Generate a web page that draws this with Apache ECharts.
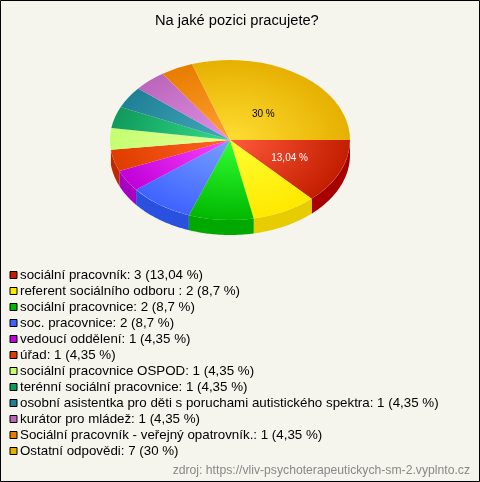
<!DOCTYPE html>
<html>
<head>
<meta charset="utf-8">
<style>html,body{margin:0;padding:0;background:#f5f5ee}#c{width:480px;height:482px}</style>
<script src="https://cdn.jsdelivr.net/npm/echarts@6/dist/echarts.min.js"></script>
</head>
<body>
<div id="c"></div>
<script>
var categories = ['sociální pracovník','referent sociálního odboru ','sociální pracovnice','soc. pracovnice','vedoucí oddělení','úřad','sociální pracovnice OSPOD','terénní sociální pracovnice','osobní asistentka pro děti s poruchami autistického spektra','kurátor pro mládež','Sociální pracovník - veřejný opatrovník.','Ostatní odpovědi'];
var counts = [3,2,2,2,1,1,1,1,1,1,1,7];
var percents = [13.04,8.7,8.7,8.7,4.35,4.35,4.35,4.35,4.35,4.35,4.35,30];
var inner = ['#ff5a3c','#ffff33','#33ff33','#77a0ff','#ff44ff','#ff6622','#e6ff99','#33dd88','#44aabb','#e090e8','#ffa033','#ffdd33'];
var outer = ['#c41e00','#ffe800','#00b800','#3f62ff','#c000d8','#e03c00','#c4ff70','#0f9a5c','#1f7f96','#bb66bb','#e87c00','#e6b000'];
var sides = ['#a80000','#e6cc00','#00a800','#2a50e0','#a800c0','#c02800','#a8e060','#0a8048','#106880','#9050a0','#c06000','#c09000'];
var swatch = ['#c41e00','#ffe800','#00b800','#3f62ff','#c000d8','#e03c00','#c4ff70','#0f9a5c','#1f7f96','#bb66bb','#e87c00','#e6b000'];
var labelled = {0:{color:'#ffffff',r:65,dy:1},11:{color:'#000000',r:57,dy:5}};

var CX=230, CY=140, RX=120, RY=80, DEPTH=15;
var total = percents.reduce(function(a,b){return a+b;},0);
function czech(v){return String(v).replace('.',',');}
function startOf(i){var s=0;for(var k=0;k<i;k++)s+=percents[k];return s/total*2*Math.PI;}

function renderSlice(i){
  return function(params,api){
    var a0=startOf(i), a1=a0+percents[i]/total*2*Math.PI;
    var children=[];
    if(a1<=Math.PI){
      var pts=[], n=40, k, t;
      for(k=0;k<=n;k++){t=a0+(a1-a0)*k/n;pts.push([CX+RX*Math.cos(t),CY+RY*Math.sin(t)]);}
      for(k=n;k>=0;k--){t=a0+(a1-a0)*k/n;pts.push([CX+RX*Math.cos(t),CY+DEPTH+RY*Math.sin(t)]);}
      children.push({type:'polygon',shape:{points:pts},style:{fill:sides[i]}});
    }
    children.push({type:'sector',x:CX,y:CY,scaleY:RY/RX,
      shape:{cx:0,cy:0,r:RX,r0:0,startAngle:a0,endAngle:a1,clockwise:true},
      style:{fill:{type:'radial',x:0,y:0,r:RX,global:true,colorStops:[{offset:0,color:inner[i]},{offset:1,color:outer[i]}]}}});
    var lab=labelled[i];
    if(lab){
      var m=(a0+a1)/2;
      children.push({type:'text',x:CX+lab.r*Math.cos(m),y:CY+lab.dy+lab.r*RY/RX*Math.sin(m),
        style:{text:czech(percents[i])+' %',fill:lab.color,font:'10px "Liberation Sans", Arial, sans-serif',align:'center',verticalAlign:'middle'}});
    }
    return {type:'group',children:children};
  };
}

var series = categories.map(function(c,i){
  return {type:'custom',name:c+': '+counts[i]+' ('+czech(percents[i])+' %)',coordinateSystem:'none',
    silent:true,animation:false,z:2,
    itemStyle:{color:swatch[i]},data:[[percents[i]]],renderItem:renderSlice(i)};
});

var chart = echarts.init(document.getElementById('c'),null,{renderer:'canvas'});
chart.setOption({
  backgroundColor:'#f5f5ee',
  animation:false,
  title:{text:'Na jaké pozici pracujete?',left:155,top:13,padding:0,textStyle:{fontFamily:'"Liberation Sans", Arial, sans-serif',fontSize:14.67,fontWeight:'normal',color:'#000'}},
  legend:{orient:'vertical',left:9.5,top:267,itemWidth:7,itemHeight:7,itemGap:0,icon:'rect',
    selectedMode:false,padding:0,
    itemStyle:{borderColor:'#000',borderWidth:1},
    textStyle:{fontFamily:'"Liberation Sans", Arial, sans-serif',fontSize:13.33,lineHeight:16,color:'#000',padding:[0,0,0,-2]},
    data:series.map(function(s){return s.name;})},
  graphic:[
    {type:'text',right:10,top:465,style:{text:'zdroj: https://vliv-psychoterapeutickych-sm-2.vyplnto.cz',fill:'#888',font:'12.2px "Liberation Sans", Arial, sans-serif'}},
    {type:'rect',silent:true,z:100,shape:{x:0.5,y:0.5,width:479,height:481},style:{fill:'none',stroke:'#000',lineWidth:1}}
  ],
  series:series
});
</script>
</body>
</html>
